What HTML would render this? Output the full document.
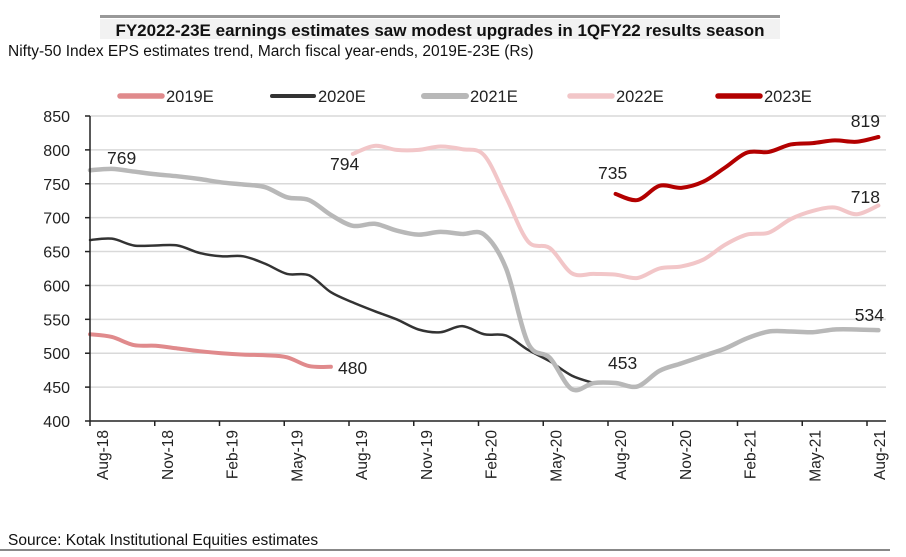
<!DOCTYPE html>
<html><head><meta charset="utf-8"><style>
body{margin:0;background:#fff;width:906px;height:557px;overflow:hidden;font-family:"Liberation Sans",sans-serif;}
svg{display:block}
</style></head><body>
<svg width="906" height="557" id="chart">
<rect x="100" y="15" width="680" height="3" fill="#999"/>
<rect x="100" y="19" width="680" height="20" fill="#f2f2f2"/>
<text x="440" y="36" text-anchor="middle" font-size="17" font-weight="bold" fill="#111" font-family="Liberation Sans Narrow, Liberation Sans, sans-serif">FY2022-23E earnings estimates saw modest upgrades in 1QFY22 results season</text>
<text x="8" y="56" font-size="15.5" fill="#111" font-family="Liberation Sans Narrow, Liberation Sans, sans-serif">Nifty-50 Index EPS estimates trend, March fiscal year-ends, 2019E-23E (Rs)</text>
<g id="grid"></g><g id="series"></g><g id="axes"></g><g id="legend"></g>
<text x="8" y="545" font-size="15.5" fill="#111" font-family="Liberation Sans Narrow, Liberation Sans, sans-serif">Source: Kotak Institutional Equities estimates</text>
<rect x="0" y="549" width="890" height="2" fill="#888"/>
</svg>
<script>
const yTicks=[400,450,500,550,600,650,700,750,800,850];
const xLabels=["Aug-18","Nov-18","Feb-19","May-19","Aug-19","Nov-19","Feb-20","May-20","Aug-20","Nov-20","Feb-21","May-21","Aug-21"];
const s2019=[528,524,512,511,507,503,500,498,497,494,481,480];
const s2019Start=0;
const s2020=[667,669,659,659,659,648,643,643,632,617,615,590,575,562,550,535,531,540,528,526,505,488,467,456];
const s2020Start=0;
const s2021=[770,772,768,764,761,757,752,749,745,730,726,704,688,691,681,675,679,676,675,625,515,493,447,456,456,451,474,485,496,507,522,532,532,531,535,535,534];
const s2021Start=0;
const s2022=[794,806,800,800,805,801,792,730,665,655,618,617,616,611,625,628,638,660,675,678,698,710,715,705,718];
const s2022Start=12;
const s2023=[735,726,747,744,753,774,796,797,808,810,814,812,819];
const s2023Start=24;
const NS="http://www.w3.org/2000/svg";
const X0=90,X1=886,Y0=421,Y1=116,VMIN=400,VMAX=850;
const xm=i=>X0+i*21.9;
const yv=v=>Y0-(v-VMIN)/(VMAX-VMIN)*(Y0-Y1);
function mk(t,a,p){const e=document.createElementNS(NS,t);for(const k in a)e.setAttribute(k,a[k]);(p||document.getElementById('chart')).appendChild(e);return e;}
const grid=document.getElementById('grid'),axes=document.getElementById('axes'),ser=document.getElementById('series'),leg=document.getElementById('legend');
yTicks.forEach(v=>{
 if(v>VMIN){const g=mk('line',{x1:X0,x2:X1,y1:yv(v),y2:yv(v),stroke:'#d9d9d9','stroke-width':1.5},grid);
 
 }
 const t=mk('text',{x:X0-20,y:yv(v)+6,'text-anchor':'end','font-size':16,fill:'#222'},axes);t.textContent=v;
 
 
 const tk=mk('line',{x1:X0-5,x2:X0,y1:yv(v),y2:yv(v),stroke:'#222','stroke-width':1.5},axes);
 
 
});
const ya=mk('line',{x1:X0,x2:X0,y1:Y1,y2:Y0,stroke:'#222','stroke-width':1.5},axes);


const xa=mk('line',{x1:X0,x2:X1,y1:Y0,y2:Y0,stroke:'#222','stroke-width':1.5},axes);


xLabels.forEach((l,k)=>{
 const x=X0+k*64.75;
 const tk=mk('line',{x1:x,x2:x,y1:Y0,y2:Y0+5,stroke:'#222','stroke-width':1.5},axes);
 
 
 const t=mk('text',{transform:`translate(${x+18},${Y0+9}) rotate(-90)`,'text-anchor':'end','font-size':15.5,fill:'#222'},axes);t.textContent=l;
 
 
});
function path(arr,start){const p=arr.map((v,i)=>[xm(start+i),yv(v)]);let d=`M${p[0][0]},${p[0][1]}`;
 for(let i=0;i<p.length-1;i++){const a=p[i-1]||p[i],b=p[i],c=p[i+1],e=p[i+2]||c;
 d+=` C${b[0]+(c[0]-a[0])/6},${b[1]+(c[1]-a[1])/6} ${c[0]-(e[0]-b[0])/6},${c[1]-(e[1]-b[1])/6} ${c[0]},${c[1]}`;}return d;}
const defs=[[s2019,s2019Start,'#e08a8c',4,'2019E'],[s2020,s2020Start,'#333',2.5,'2020E'],[s2021,s2021Start,'#b8b8b8',4.5,'2021E'],[s2022,s2022Start,'#f2c6c8',4,'2022E'],[s2023,s2023Start,'#b30000',4,'2023E']];
const legX=[120,272,424,570,718];
defs.forEach((d,k)=>{
 const p=mk('path',{d:path(d[0],d[1]),fill:'none',stroke:d[2],'stroke-width':d[3],'stroke-linecap':'round'},ser);
 
 
 const ll=mk('line',{x1:legX[k],x2:legX[k]+42,y1:96,y2:96,stroke:d[2],'stroke-width':d[3]+1.5,'stroke-linecap':'round'},leg);
 
 
 const lt=mk('text',{x:legX[k]+46,y:102,'font-size':16.5,fill:'#222'},leg);lt.textContent=d[4];
 
 
});
const ann=[['769',107,164,'start'],[String(s2022[0]),330,170,'start'],[String(s2019[s2019.length-1]),338,374,'start'],['453',608,369,'start'],[String(s2023[0]),598,179,'start'],[String(s2023[s2023.length-1]),880,127,'end'],[String(s2022[s2022.length-1]),880,203,'end'],[String(s2021[s2021.length-1]),884,321,'end']];
ann.forEach(a=>{const t=mk('text',{x:a[1],y:a[2],'text-anchor':a[3],'font-size':17.5,fill:'#222'},ser);t.textContent=a[0];
 
 });
</script>
</body></html>
